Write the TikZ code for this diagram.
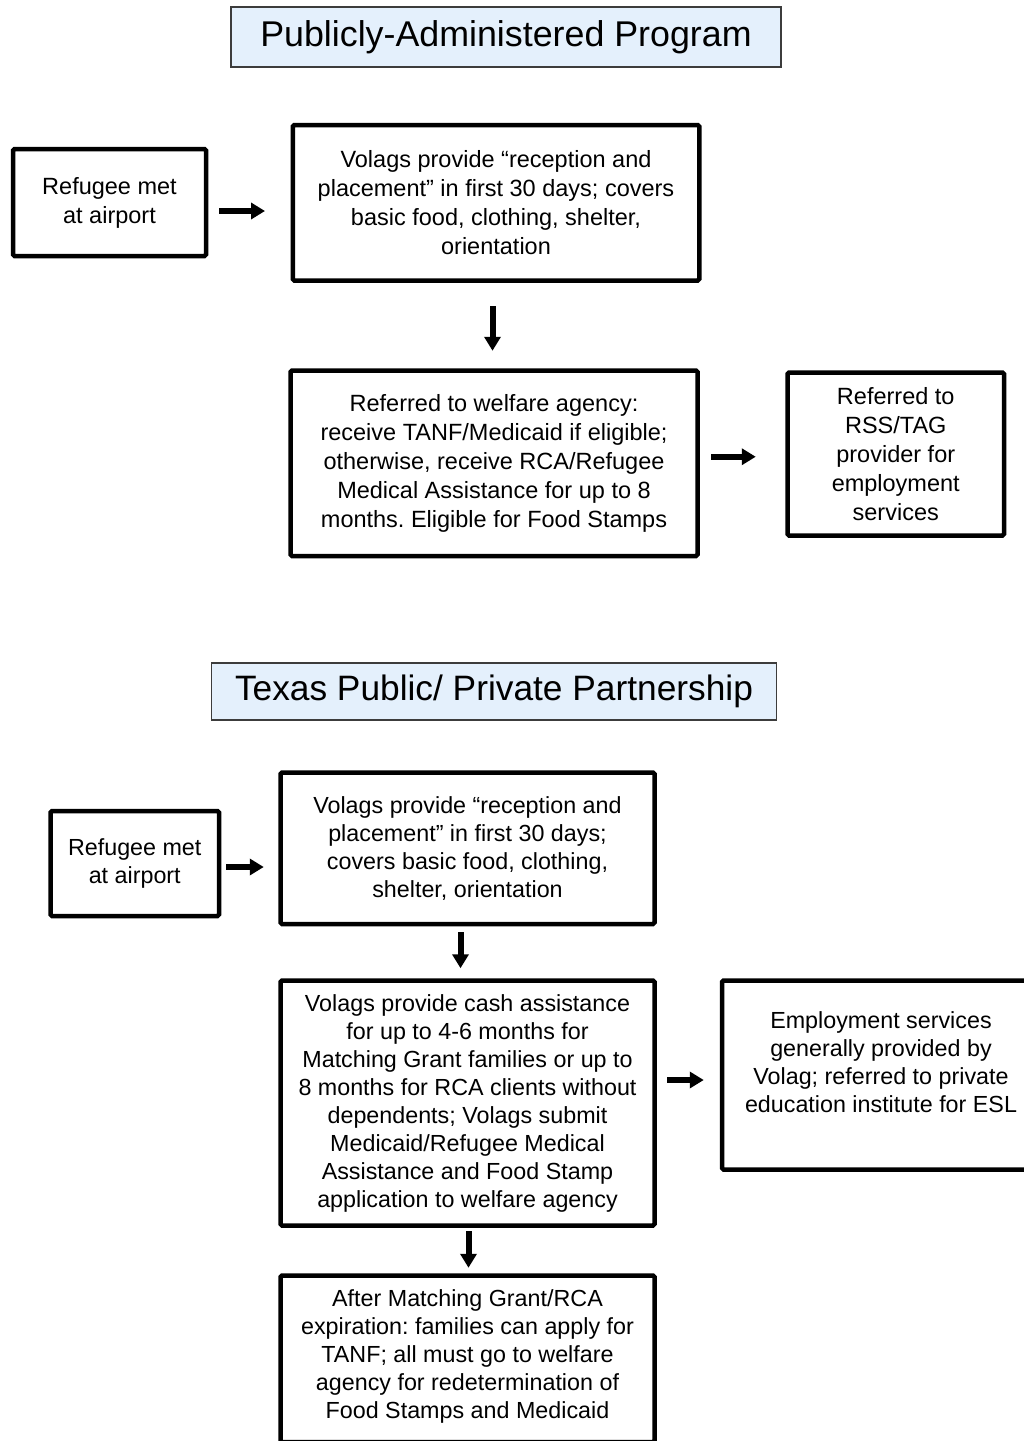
\documentclass[tikz,border=0pt]{standalone}
\usepackage{fontspec}
\setmainfont{Liberation Sans}
\usetikzlibrary{arrows.meta}
\frenchspacing
\definecolor{titleblue}{RGB}{228,240,252}
\definecolor{titleedge}{RGB}{60,60,60}
\tikzset{
  box/.style={draw=black, line width=4.5pt, rounded corners=1.5pt, fill=white, align=center, inner sep=0pt},
  toptxt/.style={font=\fontsize{23.5}{29}\selectfont},
  bottxt/.style={font=\fontsize{23.3}{28}\selectfont},
  titlebox/.style={draw=titleedge, line width=1.2pt, fill=titleblue, inner sep=0pt},
  arr/.style={line width=6pt, -{Triangle[length=14pt,width=16pt]}},
}
\begin{document}
\begin{tikzpicture}[x=1pt,y=1pt]
\useasboundingbox (0,0) rectangle (1024,-1441);
\clip (0,0) rectangle (1024,-1441);
\fill[white] (0,0) rectangle (1024,-1441);

% ---- Publicly-Administered Program ----
\node[titlebox, minimum width=550pt, minimum height=60pt, font=\fontsize{35.8}{40}\selectfont] (t1) at (506,-37) {Publicly-Administered Program};

\node[box, toptxt, minimum width=193pt, minimum height=107pt] (a1) at (109.5,-202.5) {Refugee met\\at airport};
\node[box, toptxt, minimum width=406.5pt, minimum height=155.5pt] (b1) at (496,-202.75) {Volags provide “reception and\\placement” in first 30 days; covers\\basic food, clothing, shelter,\\orientation};
\node[box, toptxt, minimum width=407pt, minimum height=185.5pt] (c1) at (494,-463.25) {Referred to welfare agency:\\receive TANF/Medicaid if eligible;\\otherwise, receive RCA/Refugee\\Medical Assistance for up to 8\\months. Eligible for Food Stamps};
\node[box, toptxt, minimum width=216.5pt, minimum height=163pt] (d1) at (895.75,-454) {Referred to\\RSS/TAG\\provider for\\employment\\services};

\draw[arr, shorten <=11pt, shorten >=25.5pt] ([yshift=-8.5pt]a1.east) -- ([yshift=-8.5pt]a1.east -| b1.west);
\draw[arr, shorten <=23.5pt, shorten >=17.5pt] ([xshift=-3.5pt]b1.south) -- ([xshift=-3.5pt]b1.south |- c1.north);
\draw[arr, shorten <=11.5pt, shorten >=29.5pt] ([yshift=6.5pt]c1.east) -- ([yshift=6.5pt]c1.east -| d1.west);

% ---- Texas Public/ Private Partnership ----
\node[titlebox, minimum width=565pt, minimum height=57pt, font=\fontsize{35.3}{40}\selectfont] (t2) at (494,-691.5) {Texas Public/ Private Partnership};

\node[box, bottxt, minimum width=168.5pt, minimum height=105pt] (a2) at (134.75,-863.5) {Refugee met\\at airport};
\node[box, bottxt, minimum width=374pt, minimum height=151.5pt] (b2) at (467.5,-848.25) {Volags provide “reception and\\placement” in first 30 days;\\covers basic food, clothing,\\shelter, orientation};
\node[box, bottxt, minimum width=374pt, minimum height=245pt] (c2) at (467.5,-1103) {Volags provide cash assistance\\for up to 4-6 months for\\Matching Grant families or up to\\8 months for RCA clients without\\dependents; Volags submit\\Medicaid/Refugee Medical\\Assistance and Food Stamp\\application to welfare agency};
\node[box, minimum width=318pt, minimum height=189pt] (d2) at (881,-1075) {};
\node[bottxt, align=center, inner sep=0pt] (d2t) at (881,-1062) {Employment services\\generally provided by\\Volag; referred to private\\education institute for ESL};
\node[box, minimum width=374pt, minimum height=166.5pt] (e2) at (467.5,-1358.75) {};
\node[bottxt, align=center, inner sep=0pt] (e2t) at (467.5,-1356) {After Matching Grant/RCA\\expiration: families can apply for\\TANF; all must go to welfare\\agency for redetermination of\\Food Stamps and Medicaid};

\draw[arr, shorten <=5pt, shorten >=14.5pt] ([yshift=-3.5pt]a2.east) -- ([yshift=-3.5pt]a2.east -| b2.west);
\draw[arr, shorten <=6pt, shorten >=10pt] ([xshift=-7pt]b2.south) -- ([xshift=-7pt]b2.south |- c2.north);
\draw[arr, shorten <=10.5pt, shorten >=16pt] ([yshift=23pt]c2.east) -- ([yshift=23pt]c2.east -| d2.west);
\draw[arr, shorten <=3.5pt, shorten >=5.5pt] ([xshift=1pt]c2.south) -- ([xshift=1pt]c2.south |- e2.north);
\end{tikzpicture}
\end{document}
